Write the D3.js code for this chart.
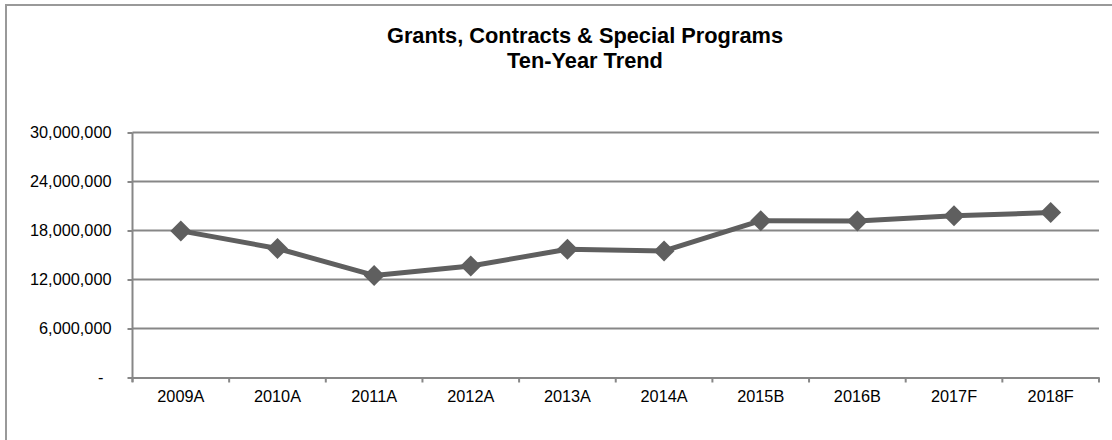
<!DOCTYPE html>
<html><head><meta charset="utf-8">
<script src="https://d3js.org/d3.v7.min.js"></script>
<style>body{margin:0;background:#fff}svg{display:block}</style>
</head><body>
<script>
const categories = ["2009A","2010A","2011A","2012A","2013A","2014A","2015B","2016B","2017F","2018F"];
const values = [17950000,15800000,12500000,13650000,15700000,15500000,19200000,19150000,19800000,20200000];
const yTicks = [0,6000000,12000000,18000000,24000000,30000000];
const titleLines = ["Grants, Contracts & Special Programs","Ten-Year Trend"];

const W=1112,H=440;
const svg=d3.select("body").append("svg").attr("width",W).attr("height",H);
svg.append("rect").attr("x",6).attr("y",5).attr("width",1120).attr("height",450)
  .attr("fill","#fff").attr("stroke","#999").attr("stroke-width",2);

const x=d3.scaleBand().domain(categories).range([132.5,1099]).padding(0);
const y=d3.scaleLinear().domain([0,30000000]).range([377.5,132.5]);
const gridC="#878787";

// gridlines
svg.append("g").selectAll("line").data(yTicks.filter(d=>d>0)).join("line")
  .attr("x1",132.5).attr("x2",1099).attr("y1",d=>y(d)).attr("y2",d=>y(d))
  .attr("stroke",gridC).attr("stroke-width",2);

// y axis
const fmt=d3.format(",");
const ya=svg.append("g").attr("transform","translate(132.5,0)")
  .call(d3.axisLeft(y).tickValues(yTicks).tickSize(5).tickPadding(16).tickFormat(d=>d===0?"-":fmt(d)));
ya.select(".domain").attr("stroke",gridC).attr("stroke-width",2).attr("d","M0,132.5V382");
ya.selectAll(".tick line").attr("stroke",gridC).attr("stroke-width",2);
ya.selectAll(".tick text").attr("font-family","Liberation Sans, Arial, sans-serif").attr("font-size",16.3).attr("fill","#000");
ya.selectAll(".tick text").filter(d=>d===0).attr("dx",-8);

// x axis
const xa=svg.append("g").attr("transform","translate(0,377.5)")
  .call(d3.axisBottom(x).tickSize(0).tickPadding(13));
xa.select(".domain").attr("stroke",gridC).attr("stroke-width",2);
xa.selectAll(".tick line").remove();
xa.selectAll(".tick text").attr("font-family","Liberation Sans, Arial, sans-serif").attr("font-size",16.3).attr("fill","#000");
// boundary ticks
const bounds=categories.map(c=>x(c)).concat([x(categories[categories.length-1])+x.bandwidth()]);
xa.append("g").selectAll("line").data(bounds).join("line")
  .attr("x1",d=>d).attr("x2",d=>d).attr("y1",0).attr("y2",5)
  .attr("stroke",gridC).attr("stroke-width",2);

// line
const cx=d=>x(d)+x.bandwidth()/2;
const pts=categories.map((c,i)=>[cx(c),y(values[i])]);
svg.append("path").attr("d",d3.line()(pts)).attr("fill","none")
  .attr("stroke","#5f5f5f").attr("stroke-width",5).attr("stroke-linejoin","round");
svg.append("g").selectAll("path").data(pts).join("path")
  .attr("transform",d=>`translate(${d[0]},${d[1]})`)
  .attr("d","M0,-10.5L10.5,0L0,10.5L-10.5,0Z").attr("fill","#5f5f5f");

// title
svg.append("g").selectAll("text").data(titleLines).join("text")
  .attr("x",585).attr("y",(d,i)=>42.5+i*25.5).attr("text-anchor","middle")
  .attr("font-family","Liberation Sans, Arial, sans-serif").attr("font-weight","bold")
  .attr("font-size",21.8).attr("fill","#000").text(d=>d);
</script>
</body></html>
